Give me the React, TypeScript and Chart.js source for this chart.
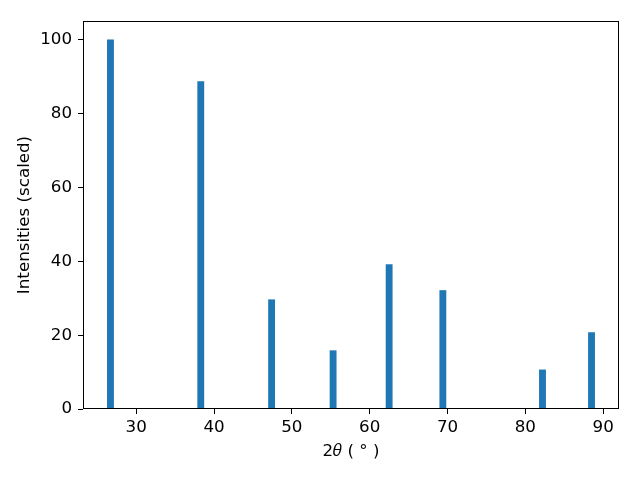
import React, { useEffect, useRef } from "react";
import { Chart, registerables } from "chart.js";

Chart.register(...registerables);

const twoTheta = [26.7, 38.3, 47.4, 55.3, 62.5, 69.4, 82.2, 88.5];
const intensities = [100, 88.7, 29.6, 15.8, 39.1, 32.1, 10.6, 20.7];
const xTicks = [30, 40, 50, 60, 70, 80, 90];
const yTicks = [0, 20, 40, 60, 80, 100];

const FONT = "'DejaVu Sans', sans-serif";

const framePlugin = {
  id: "frame",
  afterDraw(chart: any) {
    const { ctx, chartArea } = chart;
    ctx.save();
    ctx.strokeStyle = "#000";
    ctx.lineWidth = 1;
    ctx.strokeRect(
      Math.round(chartArea.left) + 0.5,
      Math.round(chartArea.top) + 0.5,
      Math.round(chartArea.right - chartArea.left) - 1,
      Math.round(chartArea.bottom - chartArea.top) - 1
    );
    ctx.restore();
  },
};

export default function App() {
  const ref = useRef<HTMLCanvasElement>(null);
  useEffect(() => {
    if (!ref.current) return;
    const chart = new Chart(ref.current, {
      type: "bar",
      data: {
        datasets: [
          {
            data: twoTheta.map((x, i) => ({ x, y: intensities[i] })),
            backgroundColor: "#1f77b4",
            barThickness: 6.2,
            borderWidth: 0,
          },
        ],
      },
      options: {
        responsive: false,
        animation: false,
        events: [],
        layout: { padding: { top: 21, right: 21, left: 0, bottom: 0 } },
        plugins: { legend: { display: false }, tooltip: { enabled: false } },
        scales: {
          x: {
            type: "linear",
            offset: false,
            min: 23.17,
            max: 92.03,
            afterBuildTicks: (s: any) => {
              s.ticks = xTicks.map((v) => ({ value: v }));
            },
            afterFit: (s: any) => {
              s.height = 71;
            },
            grid: {
              offset: false,
              drawOnChartArea: false,
              drawTicks: true,
              tickLength: 5,
              tickColor: "#000",
              tickWidth: 1,
            },
            border: { display: false },
            ticks: {
              color: "#000",
              font: { family: FONT, size: 16.7 },
              padding: 4,
              maxRotation: 0,
              autoSkip: false,
            },
            title: {
              display: true,
              text: "2𝜃 ( ° )",
              color: "#000",
              font: { family: FONT, size: 16.7 },
              padding: { top: 0, bottom: 18 },
            },
          },
          y: {
            type: "linear",
            min: 0,
            max: 105.1,
            afterBuildTicks: (s: any) => {
              s.ticks = yTicks.map((v) => ({ value: v }));
            },
            afterFit: (s: any) => {
              s.width = 83;
            },
            grid: {
              offset: false,
              drawOnChartArea: false,
              drawTicks: true,
              tickLength: 5,
              tickColor: "#000",
              tickWidth: 1,
            },
            border: { display: false },
            ticks: {
              color: "#000",
              font: { family: FONT, size: 16.7 },
              padding: 6,
              autoSkip: false,
            },
            title: {
              display: true,
              text: "Intensities (scaled)",
              color: "#000",
              font: { family: FONT, size: 16.7 },
              padding: { top: 15, bottom: 0 },
            },
          },
        },
      },
      plugins: [framePlugin],
    });
    return () => chart.destroy();
  }, []);
  return (
    <div style={{ position: "fixed", left: 0, top: 0, width: 640, height: 480, background: "#fff" }}>
      <canvas ref={ref} width={640} height={480} />
    </div>
  );
}
